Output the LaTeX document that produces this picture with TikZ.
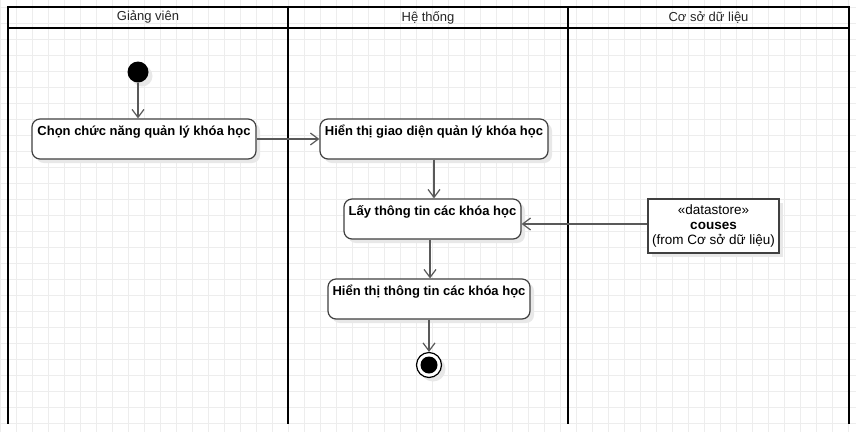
\documentclass[tikz,border=0pt]{standalone}
\usepackage{fontspec}
\setmainfont{Liberation Sans}
\usetikzlibrary{arrows.meta,shadows}

\begin{document}
\begin{tikzpicture}[x=1pt,y=-1pt]
        \tikzstyle{gridline}=[draw=black!7,line width=1pt]
        \tikzstyle{lane}=[draw=black,line width=2pt,line cap=rect]
        \tikzstyle{lanetitle}=[font=\fontsize{13}{15}\selectfont,text=black!85]
        \tikzstyle{softshadow}=[drop shadow={shadow xshift=4pt,shadow yshift=-4pt,fill=black!9,opacity=1}]
        \tikzstyle{action}=[rectangle,rounded corners=8pt,draw=black!75,line width=1.2pt,fill=white,softshadow,
            font=\bfseries\fontsize{13}{15}\selectfont,inner xsep=4pt,inner ysep=6pt,text height=10pt,text depth=18pt]
        \tikzstyle{datastore}=[rectangle,draw=black!75,line width=1.2pt,fill=white,softshadow,align=center,
            font=\fontsize{13.5}{15}\selectfont,minimum width=131pt,minimum height=54pt,inner sep=1pt]
        \tikzstyle{initial}=[circle,fill=black,minimum size=21pt,inner sep=0pt,softshadow]
        \tikzstyle{final}=[circle,draw=black,line width=1.2pt,fill=white,minimum size=25pt,inner sep=0pt,softshadow]
        \tikzstyle{flow}=[draw=black!65,line width=1.2pt,-{Straight Barb[length=8pt,width=12pt]}]
        \useasboundingbox (0,0) rectangle (856,432);
        \fill[white] (0,0) rectangle (856,432);
        % background grid
        \foreach \gx in {0,16,...,848} \draw[gridline] (\gx,0) -- (\gx,432);
        \foreach \gy in {7,23,...,423} \draw[gridline] (0,\gy) -- (856,\gy);
        % swimlanes
        \draw[lane] (8,7) -- (849,7) (8,28) -- (849,28);
        \foreach \lx in {8,288,568,849} \draw[lane] (\lx,7) -- (\lx,423);
        \node[lanetitle] (laneGV) at (148,17.5) {Giảng viên};
        \node[lanetitle] (laneHT) at (428,17.5) {Hệ thống};
        \node[lanetitle] (laneCSDL) at (708.5,17.5) {Cơ sở dữ liệu};
        % activities
        \node[initial] (start) at (138,72) {};
        \node[action,minimum width=224pt] (chon) at (144,139) {Chọn chức năng quản lý khóa học};
        \node[action,minimum width=228pt] (giaodien) at (434,139) {Hiển thị giao diện quản lý khóa học};
        \node[action,minimum width=177pt] (lay) at (432.5,219) {Lấy thông tin các khóa học};
        \node[action,minimum width=202pt] (hienthi) at (429,299) {Hiển thị thông tin các khóa học};
        \node[final] (stop) at (429,365) {};
        \fill[black] (stop.center) circle (8.5);
        \node[datastore] (couses) at (713.5,226) {«datastore»\\\textbf{couses}\\(from Cơ sở dữ liệu)};
        % transitions
        \draw[flow] (start) -- (start |- chon.north);
        \draw[flow] (chon) -- (giaodien);
        \draw[flow] (giaodien.south) -- (giaodien.south |- lay.north);
        \draw[flow] ([xshift=-2.5pt]lay.south) -- ([xshift=-2.5pt]lay.south |- hienthi.north);
        \draw[flow] (hienthi) -- (stop);
        \draw[flow] ([yshift=2pt]couses.west) -- ([yshift=2pt]couses.west -| lay.east);
\end{tikzpicture}
\end{document}
